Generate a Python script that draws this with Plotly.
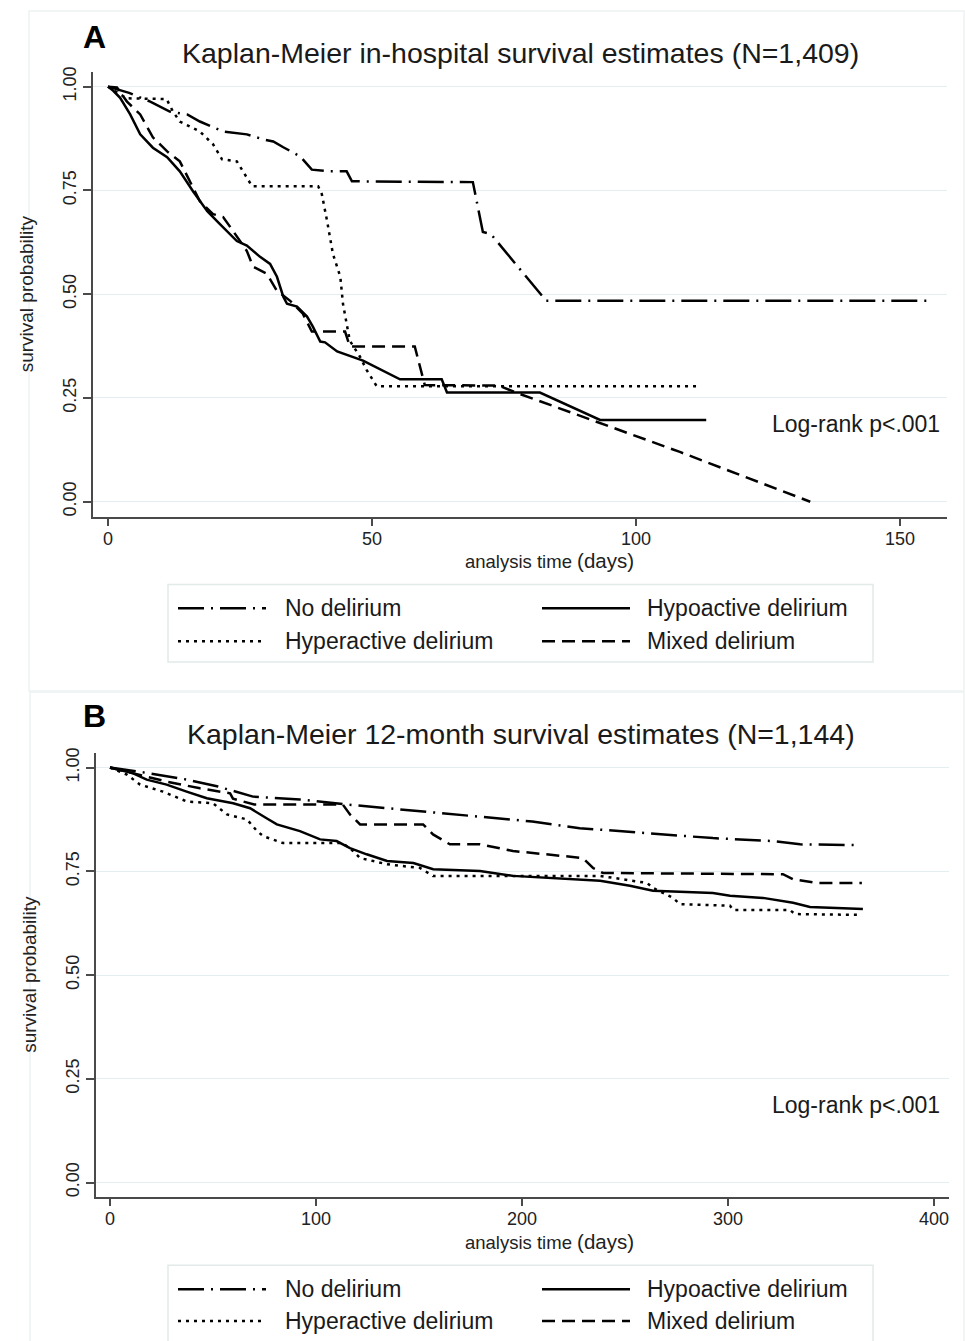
import plotly.graph_objects as go

W, H = 965, 1341

# ---------------- data ----------------
series_names = ["No delirium", "Hypoactive delirium", "Hyperactive delirium", "Mixed delirium"]

# Panel A: in-hospital (days)
A_no_t = [0, 4, 8, 11.7, 15, 17.4, 21.8, 26.3, 29.4, 31.3, 33.2, 36.4, 38.6, 42, 45.2, 46.2, 69.1, 71, 72.5, 83, 156]
A_no_s = [1, .985, .964, .94, .933, .916, .892, .885, .873, .868, .854, .832, .80, .796, .796, .772, .77, .65, .645, .484, .484]

A_hyper_t = [0, 2, 3.5, 11.1, 12.3, 13.6, 17.4, 19.9, 21.6, 24.4, 25.6, 27.3, 39.8, 40.5, 41.5, 42.6, 44, 44.5, 45.3, 45.8, 47.7, 49, 50.9, 111.5]
A_hyper_s = [1, .985, .972, .97, .94, .916, .892, .861, .825, .82, .796, .76, .76, .741, .676, .597, .542, .477, .422, .388, .35, .317, .278, .278]

A_hypo_t = [0, 1, 2.3, 4.2, 6.1, 8.5, 11.2, 13.6, 16.1, 18.8, 21.2, 24.4, 26.3, 28.8, 30.7, 32, 33.2, 33.9, 35.8, 37.7, 38.8, 40.2, 41.1, 43.4, 48.3, 55.3, 63.2, 64.2, 81.8, 93.2, 113.3]
A_hypo_s = [1, .99, .973, .933, .885, .853, .83, .796, .748, .70, .669, .628, .617, .59, .573, .542, .494, .477, .47, .446, .422, .386, .384, .362, .34, .295, .295, .263, .263, .197, .197]

A_mixed_t = [0, 1.7, 3.6, 6.1, 8.5, 11.2, 13.6, 15.5, 17.4, 19.9, 21.8, 23.7, 26.3, 27.5, 30.1, 32, 34.5, 36.9, 38.6, 44.9, 45.8, 58.1, 60, 74, 77.5, 108.3, 133]
A_mixed_s = [1, .998, .964, .933, .878, .844, .82, .772, .724, .693, .686, .652, .604, .566, .549, .508, .484, .453, .41, .41, .374, .374, .281, .28, .262, .12, 0]

# Panel B: 12-month (days)
B_no_t = [0, 19.4, 37.4, 51.9, 69.4, 92.2, 115, 140.8, 179.6, 205, 228, 260.7, 292.7, 321.8, 335, 364]
B_no_s = [1, .986, .971, .955, .93, .923, .911, .899, .882, .87, .854, .842, .83, .823, .815, .813]

B_mixed_t = [0, 14.6, 27.7, 43.7, 58.3, 59.7, 70, 113, 116.5, 121.4, 152, 156.8, 165, 179.6, 195.6, 229.6, 234.5, 239.3, 326.7, 331.6, 343, 365]
B_mixed_s = [1, .983, .966, .95, .938, .925, .911, .911, .887, .863, .863, .839, .815, .815, .799, .782, .758, .746, .743, .731, .722, .722]

B_hypo_t = [0, 11.3, 17.8, 27.5, 37.2, 47, 59.8, 68, 76, 81, 92.2, 102, 110, 116.5, 124.6, 134.5, 147.3, 156.9, 179.6, 195.6, 237.9, 252.4, 263.6, 292.7, 301, 317, 331.6, 339.8, 365.5]
B_hypo_s = [1, .986, .971, .959, .942, .926, .914, .902, .878, .863, .847, .827, .823, .806, .791, .775, .77, .755, .751, .739, .727, .715, .703, .698, .691, .686, .674, .664, .659]

B_hyper_t = [0, 8.2, 14.6, 25.7, 37.4, 50, 56.8, 66.5, 71.4, 74.3, 84, 113, 118, 121.4, 134.5, 150.5, 156.8, 179.6, 237.9, 260.7, 263.6, 273.3, 276.7, 301, 302.4, 330, 332.5, 365]
B_hyper_s = [1, .983, .959, .942, .918, .914, .887, .875, .847, .835, .818, .818, .799, .782, .767, .758, .739, .739, .739, .722, .71, .686, .671, .667, .657, .657, .647, .645]

A_xticks = [0, 50, 100, 150]
B_xticks = [0, 100, 200, 300, 400]
y_ticks = [0, 0.25, 0.5, 0.75, 1.0]

titleA = "Kaplan-Meier in-hospital survival estimates (N=1,409)"
titleB = "Kaplan-Meier 12-month survival estimates (N=1,144)"
logrank = "Log-rank p<.001"
xtitle = "analysis time <span style='font-size:20.5px'>(days)</span>"
ytitle = "survival probability"

# ---------------- styles ----------------
FONT = "Liberation Sans, Arial, Helvetica, sans-serif"
LW = 2.5
dash_styles = {
    "No delirium": "26px,7px,2px,7px",
    "Hypoactive delirium": "solid",
    "Hyperactive delirium": "3px,5px",
    "Mixed delirium": "13px,7px",
}
GRID = "#e4edef"
AXC = "#4a4a4a"
FRAME = "#edf2f2"


def px2x(px):
    return px / W


def py2y(py):
    return 1 - py / H


fig = go.Figure()

panelA = [("No delirium", A_no_t, A_no_s), ("Hypoactive delirium", A_hypo_t, A_hypo_s),
          ("Hyperactive delirium", A_hyper_t, A_hyper_s), ("Mixed delirium", A_mixed_t, A_mixed_s)]
panelB = [("No delirium", B_no_t, B_no_s), ("Hypoactive delirium", B_hypo_t, B_hypo_s),
          ("Hyperactive delirium", B_hyper_t, B_hyper_s), ("Mixed delirium", B_mixed_t, B_mixed_s)]

for name, t, s in panelA:
    fig.add_trace(go.Scatter(x=t, y=s, mode="lines", name=name, showlegend=False,
                             line=dict(color="black", width=LW, dash=dash_styles[name]),
                             xaxis="x", yaxis="y"))
for name, t, s in panelB:
    fig.add_trace(go.Scatter(x=t, y=s, mode="lines", name=name, showlegend=False,
                             line=dict(color="black", width=LW, dash=dash_styles[name]),
                             xaxis="x2", yaxis="y2"))

# plot areas (pixels)
A_box = dict(l=93, r=947, t=67, b=514)
B_box = dict(l=96, r=949, t=751, b=1197)

axis_common = dict(showline=True, linecolor=AXC, linewidth=1.5, ticks="outside", ticklen=8,
                   tickcolor=AXC, tickwidth=1.5, zeroline=False, mirror=False,
                   tickfont=dict(family=FONT, size=18, color="#222"))

fig.update_layout(
    width=W, height=H, margin=dict(l=0, r=0, t=0, b=0),
    paper_bgcolor="white", plot_bgcolor="white", showlegend=False,
    xaxis=dict(domain=[px2x(A_box["l"]), px2x(A_box["r"])], range=[-2.84, 158.9],
               tickvals=A_xticks, showgrid=False, anchor="y", ticklabelstandoff=-3,
               **axis_common),
    yaxis=dict(domain=[py2y(A_box["b"]), py2y(A_box["t"])], range=[-0.036, 1.036],
               tickvals=y_ticks, tickformat=".2f", tickangle=-90, showgrid=True,
               gridcolor=GRID, gridwidth=1.2, anchor="x",
               title=dict(text=ytitle, font=dict(family=FONT, size=19, color="#222"), standoff=21),
               **axis_common),
    xaxis2=dict(domain=[px2x(B_box["l"]), px2x(B_box["r"])], range=[-6.8, 407.3],
                tickvals=B_xticks, showgrid=False, anchor="y2", ticklabelstandoff=-3,
                **axis_common),
    yaxis2=dict(domain=[py2y(B_box["b"]), py2y(B_box["t"])], range=[-0.034, 1.036],
                tickvals=y_ticks, tickformat=".2f", tickangle=-90, showgrid=True,
                gridcolor=GRID, gridwidth=1.2, anchor="x2",
                title=dict(text=ytitle, font=dict(family=FONT, size=19, color="#222"), standoff=21),
                **axis_common),
)

shapes = []
annotations = []

# faint outer frames of each panel
shapes.append(dict(type="rect", xref="paper", yref="paper", x0=px2x(29), x1=px2x(964), y0=py2y(689), y1=py2y(6),
                   line=dict(color=FRAME, width=1.5), fillcolor="rgba(0,0,0,0)", layer="below"))
shapes.append(dict(type="rect", xref="paper", yref="paper", x0=px2x(30), x1=px2x(964), y0=py2y(1345), y1=py2y(690),
                   line=dict(color=FRAME, width=1.5), fillcolor="rgba(0,0,0,0)", layer="below"))

# panel labels / titles / x titles / log-rank text
for lab, x, y in [("A", 94, 32), ("B", 94, 714)]:
    annotations.append(dict(text=f"<b>{lab}</b>", x=px2x(x), y=py2y(y), xref="paper", yref="paper",
                            showarrow=False, xanchor="center", yanchor="middle",
                            font=dict(family=FONT, size=32, color="black")))
for txt, x, y in [(titleA, 520, 48), (titleB, 521, 732)]:
    annotations.append(dict(text=txt, x=px2x(x), y=py2y(y), xref="paper", yref="paper",
                            showarrow=False, xanchor="center", yanchor="middle",
                            font=dict(family=FONT, size=28.5, color="#1a1a1a")))
for y in [558, 1242]:
    annotations.append(dict(text=xtitle, x=px2x(549), y=py2y(y), xref="paper", yref="paper",
                            showarrow=False, xanchor="center", yanchor="middle",
                            font=dict(family=FONT, size=18.5, color="#222")))
for y in [421, 1105]:
    annotations.append(dict(text=logrank, x=px2x(942), y=py2y(y), xref="paper", yref="paper",
                            showarrow=False, xanchor="right", yanchor="middle",
                            font=dict(family=FONT, size=23, color="#1a1a1a")))

# legends (drawn manually, Stata-style, 2 columns)
legend_layout = [  # (name, column, row)
    ("No delirium", 0, 0), ("Hypoactive delirium", 1, 0),
    ("Hyperactive delirium", 0, 1), ("Mixed delirium", 1, 1),
]
col_line = [(178, 266), (542, 630)]
col_text = [283, 645]
for box_top, box_bot, row_y in [(582, 660, [606, 639]), (1266, 1350, [1290, 1322])]:
    shapes.append(dict(type="rect", xref="paper", yref="paper", x0=px2x(168), x1=px2x(873),
                       y0=py2y(box_bot), y1=py2y(box_top), line=dict(color="#e2eaea", width=1.5),
                       fillcolor="white", layer="below"))
    for name, c, r in legend_layout:
        shapes.append(dict(type="line", xref="paper", yref="paper",
                           x0=px2x(col_line[c][0]), x1=px2x(col_line[c][1]),
                           y0=py2y(row_y[r]), y1=py2y(row_y[r]),
                           line=dict(color="black", width=LW, dash=dash_styles[name])))
        annotations.append(dict(text=name, x=px2x(col_text[c]), y=py2y(row_y[r]), xref="paper", yref="paper",
                                showarrow=False, xanchor="left", yanchor="middle",
                                font=dict(family=FONT, size=23, color="#1a1a1a")))

fig.update_layout(shapes=shapes, annotations=annotations)
fig.write_html("out.html", config={"displayModeBar": False},
               post_script="document.body.style.margin='0';document.body.style.overflow='hidden';")
